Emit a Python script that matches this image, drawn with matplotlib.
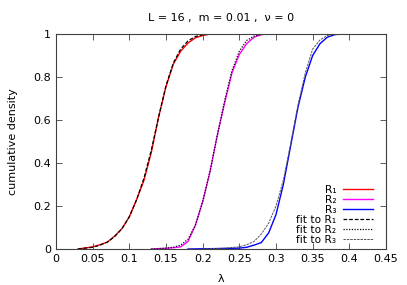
import matplotlib
matplotlib.use('Agg')
import matplotlib.pyplot as plt

lam_r1 = [0.03, 0.05, 0.06, 0.07, 0.08, 0.09, 0.10, 0.11, 0.12, 0.13, 0.14, 0.15, 0.16, 0.17, 0.18, 0.19, 0.20, 0.21]
cdf_r1 = [0.0, 0.01, 0.02, 0.032, 0.06, 0.095, 0.15, 0.23, 0.32, 0.45, 0.615, 0.755, 0.86, 0.92, 0.958, 0.982, 0.993, 1.0]

lam_r2 = [0.13, 0.15, 0.16, 0.17, 0.18, 0.19, 0.20, 0.21, 0.22, 0.23, 0.24, 0.25, 0.26, 0.27, 0.28, 0.29]
cdf_r2 = [0.0, 0.003, 0.006, 0.01, 0.035, 0.11, 0.22, 0.36, 0.53, 0.68, 0.82, 0.905, 0.955, 0.985, 0.997, 1.0]

lam_r3 = [0.18, 0.22, 0.25, 0.26, 0.27, 0.28, 0.29, 0.30, 0.31, 0.32, 0.33, 0.34, 0.35, 0.36, 0.37, 0.38, 0.39, 0.40]
cdf_r3 = [0.0, 0.002, 0.004, 0.008, 0.018, 0.03, 0.075, 0.16, 0.30, 0.48, 0.66, 0.80, 0.90, 0.955, 0.985, 0.997, 1.0, 1.0]

# fitted curves
lam_f1 = [0.03, 0.05, 0.06, 0.07, 0.08, 0.09, 0.10, 0.11, 0.12, 0.13, 0.14, 0.15, 0.16, 0.17, 0.18, 0.19, 0.20, 0.22]
cdf_f1 = [0.0, 0.008, 0.018, 0.032, 0.058, 0.095, 0.15, 0.23, 0.33, 0.46, 0.615, 0.76, 0.865, 0.93, 0.968, 0.988, 0.997, 1.0]

lam_f2 = [0.13, 0.15, 0.16, 0.17, 0.18, 0.19, 0.20, 0.21, 0.22, 0.23, 0.24, 0.25, 0.26, 0.27, 0.28, 0.30]
cdf_f2 = [0.0, 0.004, 0.008, 0.018, 0.045, 0.11, 0.22, 0.36, 0.53, 0.69, 0.83, 0.92, 0.97, 0.99, 0.998, 1.0]

lam_f3 = [0.20, 0.23, 0.25, 0.26, 0.27, 0.28, 0.29, 0.30, 0.31, 0.32, 0.33, 0.34, 0.35, 0.36, 0.37, 0.38, 0.40]
cdf_f3 = [0.0, 0.004, 0.01, 0.02, 0.035, 0.07, 0.12, 0.20, 0.32, 0.49, 0.67, 0.82, 0.93, 0.972, 0.993, 1.0, 1.0]

xticks = [0, 0.05, 0.1, 0.15, 0.2, 0.25, 0.3, 0.35, 0.4, 0.45]
xticklabels = ['0', '0.05', '0.1', '0.15', '0.2', '0.25', '0.3', '0.35', '0.4', '0.45']
yticks = [0, 0.2, 0.4, 0.6, 0.8, 1]
yticklabels = ['0', '0.2', '0.4', '0.6', '0.8', '1']

plt.rcParams['font.family'] = ['DejaVu Sans']
fig = plt.figure(figsize=(4.07, 2.85), dpi=100)
ax = fig.add_axes([56/407, 1-249/285, 330/407, 215/285])

ax.plot(lam_r1, cdf_r1, color='#ff0000', lw=1.0, label='R₁')
ax.plot(lam_r2, cdf_r2, color='#ff00ff', lw=1.0, label='R₂')
ax.plot(lam_r3, cdf_r3, color='#0000ff', lw=1.0, label='R₃')
ax.plot(lam_f1, cdf_f1, color='black', lw=0.9, ls=(0, (3, 1.5)), label='fit to R₁')
ax.plot(lam_f2, cdf_f2, color='black', lw=0.9, ls=(0, (1, 1.2)), label='fit to R₂')
ax.plot(lam_f3, cdf_f3, color='#555555', lw=0.7, ls=(0, (2.5, 1)), label='fit to R₃')

ax.set_xlim(0, 0.45)
ax.set_ylim(0, 1)
ax.set_xticks(xticks)
ax.set_xticklabels(xticklabels)
ax.set_yticks(yticks)
ax.set_yticklabels(yticklabels)
ax.tick_params(direction='in', top=True, right=True, labelsize=8, length=4, width=0.6, color='#404040')
for s in ax.spines.values():
    s.set_color('#404040')
    s.set_linewidth(0.8)

ax.set_xlabel('λ', fontsize=8, labelpad=7)
ax.set_ylabel('cumulative density', fontsize=8, labelpad=11)
ax.set_title('L = 16 ,  m = 0.01 ,  ν = 0', fontsize=8, pad=9)

ax.legend(loc='lower right', bbox_to_anchor=(0.974, 0.0), frameon=False, markerfirst=False,
          prop={'size': 7.6}, handlelength=2.9, labelspacing=0.0, borderaxespad=0,
          handletextpad=0.6)

fig.savefig('out.png', dpi=100)
